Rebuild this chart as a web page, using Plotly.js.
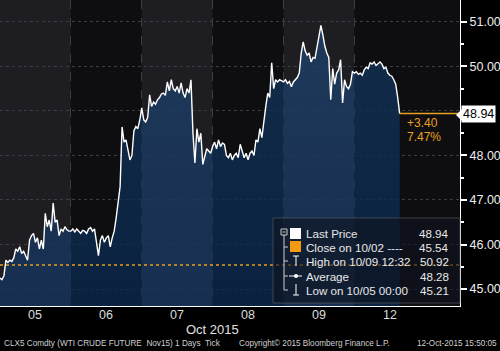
<!DOCTYPE html>
<html><head><meta charset="utf-8">
<script src="https://cdn.plot.ly/plotly-3.0.1.min.js"></script>
<style>html,body{margin:0;padding:0;background:#000;}#c{width:500px;height:351px;}</style>
</head><body><div id="c"></div>
<script>
// Day labels (calendar days; weekend skipped)
const dayLabels = ['05','06','07','08','09','12'];
// Prices sampled every 40 minutes of each calendar day (36 per day)
const p05 = [45.25,45.21,45.30,45.65,45.60,45.65,45.62,45.70,45.90,45.85,45.95,45.80,45.85,45.75,45.65,46.10,46.20,46.25,46.05,46.15,45.90,46.10,45.90,46.70,46.40,46.55,46.30,46.93,46.50,46.55,46.20,46.35,46.30,46.40,46.33,46.30];
const p06 = [46.30,46.35,46.28,46.35,46.30,46.25,46.32,46.30,46.25,46.35,46.38,46.30,46.35,46.05,45.75,46.10,46.20,46.05,46.15,46.20,45.95,46.15,46.30,46.60,46.95,47.30,48.64,48.30,48.35,48.10,47.90,48.00,48.55,48.65,48.60,48.80];
const p07 = [49.07,48.80,48.75,48.85,49.36,49.10,49.20,49.15,49.25,49.30,49.38,49.40,49.35,49.65,49.45,49.70,49.50,49.45,49.55,49.40,49.63,49.40,49.30,49.50,49.40,49.70,48.50,47.83,48.60,48.30,48.50,47.80,47.95,48.15,48.10,48.05];
const p08 = [48.20,48.30,48.15,48.35,48.20,48.28,48.25,48.00,47.95,48.05,47.90,48.00,48.05,47.95,48.25,48.10,47.95,48.05,47.90,48.05,48.10,48.00,48.35,48.30,48.60,48.40,48.80,49.10,49.40,49.30,50.08,49.50,49.70,49.65,49.70,49.68];
const p09 = [49.65,49.70,49.62,49.66,49.54,49.65,49.70,49.75,49.85,50.30,50.55,50.35,50.25,50.30,50.10,50.20,50.18,50.45,50.66,50.92,50.70,50.45,50.30,50.20,49.25,49.95,49.60,49.85,49.92,50.15,49.18,49.70,49.55,49.50,49.60,49.88];
const p12 = [49.85,49.88,49.82,49.85,49.80,49.92,49.98,49.95,50.08,50.05,50.10,50.02,50.06,50.10,50.05,49.95,49.98,49.85,49.80,49.78,49.70,49.60,49.30,48.94];
const samplesPerDay = 36;

// Legend / reference values
const legendLabels = ['Last Price','Close on 10/02 ----','High on 10/09 12:32','Average','Low on 10/05 00:00'];
const legendValues = ['48.94','45.54','50.92','48.28','45.21'];
const closePrev = 45.54;
const lastPrice = 48.94;
const changeText = ['+3.40','7.47%'];
const yTicks = [45,46,47,48,49,50,51];

const dayArrays = [p05,p06,p07,p08,p09,p12];
const xs = [], ys = [];
dayArrays.forEach((arr,d)=>arr.forEach((v,j)=>{xs.push(d + j/samplesPerDay); ys.push(v);}));
const lastX = xs[xs.length-1];

const XMAX = 6.49, YMIN = 44.62, YMAX = 51.49;
const W = 460, H = 306;
const px = x => x/W, py = y => (H - y)/H;
const ORANGE = '#e8a020';
const FONT = 'Liberation Sans, Arial, sans-serif';

// per-day area fills (alternating shading like the day bands)
const lightFill = [[0,'rgba(21,51,91,0.8)'],[1,'rgba(30,64,104,0.8)']];
const darkFill  = [[0,'rgba(9,39,75,0.8)'],[1,'rgba(18,51,88,0.8)']];
const traces = [];
dayArrays.forEach((arr,d)=>{
  const sx = arr.map((v,j)=>d + j/samplesPerDay), sy = arr.slice();
  if (d+1 < dayArrays.length) { sx.push(d+1); sy.push(dayArrays[d+1][0]); }
  traces.push({x:sx, y:sy, type:'scatter', mode:'lines', line:{width:0, color:'rgba(0,0,0,0)'},
    fill:'tozeroy', fillgradient:{type:'vertical', start:YMIN, stop:51.0, colorscale: d%2===0 ? lightFill : darkFill},
    hoverinfo:'skip'});
});
traces.push({x:xs, y:ys, type:'scatter', mode:'lines', line:{color:'#ffffff', width:1.4}, hoverinfo:'skip'});

const shapes = [];
dayLabels.forEach((d,i)=>{
  shapes.push({type:'rect', xref:'x', yref:'paper', x0:i, x1:(i===dayLabels.length-1?XMAX:i+1), y0:0, y1:1,
    fillcolor: i%2===0 ? '#1d1d22' : '#0e0e11', line:{width:0}, layer:'below'});
});
shapes.push({type:'line', xref:'paper', yref:'y', x0:0, x1:1, y0:closePrev, y1:closePrev,
  line:{color:ORANGE, width:1.5, dash:'dot'}, layer:'above'});
shapes.push({type:'line', xref:'x', yref:'y', x0:lastX, x1:XMAX, y0:lastPrice, y1:lastPrice,
  line:{color:ORANGE, width:1.5}, layer:'above'});
// legend box
shapes.push({type:'rect', xref:'paper', yref:'paper', x0:px(273), x1:px(460), y0:py(303), y1:py(218),
  fillcolor:'rgba(14,20,30,0.62)', line:{color:'rgba(90,95,105,0.6)', width:1}, layer:'above'});
// legend tree
shapes.push({type:'rect', xref:'paper', yref:'paper', x0:px(281), x1:px(287), y0:py(235), y1:py(229), line:{color:'#ccc',width:1}, fillcolor:'rgba(0,0,0,0)'});
shapes.push({type:'line', xref:'paper', yref:'paper', x0:px(282.5), x1:px(285.5), y0:py(232), y1:py(232), line:{color:'#ccc',width:1}});
shapes.push({type:'line', xref:'paper', yref:'paper', x0:px(284), x1:px(284), y0:py(235), y1:py(290), line:{color:'#ccc',width:1}});
[247,261,276,290].forEach(y=>shapes.push({type:'line', xref:'paper', yref:'paper', x0:px(284), x1:px(288), y0:py(y), y1:py(y), line:{color:'#ccc',width:1}}));
// legend icons
shapes.push({type:'rect', xref:'paper', yref:'paper', x0:px(290), x1:px(301), y0:py(239), y1:py(228), fillcolor:'#ffffff', line:{width:0}});
shapes.push({type:'rect', xref:'paper', yref:'paper', x0:px(290), x1:px(301), y0:py(252), y1:py(241), fillcolor:'#f39a12', line:{width:0}});
shapes.push({type:'line', xref:'paper', yref:'paper', x0:px(296), x1:px(296), y0:py(256), y1:py(266), line:{color:'#fff',width:1}});
shapes.push({type:'line', xref:'paper', yref:'paper', x0:px(293), x1:px(299), y0:py(256), y1:py(256), line:{color:'#fff',width:1}});
shapes.push({type:'line', xref:'paper', yref:'paper', x0:px(289), x1:px(302), y0:py(276), y1:py(276), line:{color:'#fff',width:1}});
shapes.push({type:'circle', xref:'paper', yref:'paper', x0:px(294), x1:px(298), y0:py(278), y1:py(274), fillcolor:'#fff', line:{width:0}});
shapes.push({type:'line', xref:'paper', yref:'paper', x0:px(296), x1:px(296), y0:py(284), y1:py(295), line:{color:'#fff',width:1}});
shapes.push({type:'line', xref:'paper', yref:'paper', x0:px(293), x1:px(299), y0:py(295), y1:py(295), line:{color:'#fff',width:1}});
// price tag notch
shapes.push({type:'path', xref:'paper', yref:'paper', path:`M ${px(456)} ${py(115)} L ${px(462)} ${py(109)} L ${px(462)} ${py(121)} Z`, fillcolor:'#ffffff', line:{width:0}, layer:'above'});

const annotations = [];
const rowsY = [233,247,261,276,290];
legendLabels.forEach((t,i)=>{
  annotations.push({xref:'paper', yref:'paper', x:px(304), y:py(rowsY[i]), xanchor:'left', yanchor:'middle', showarrow:false,
    text:t, font:{family:FONT, size:11.6, color:'#e8e8e8'}});
  annotations.push({xref:'paper', yref:'paper', x:px(451), y:py(rowsY[i]), xanchor:'right', yanchor:'middle', showarrow:false,
    text:legendValues[i], font:{family:FONT, size:11.6, color:'#e8e8e8'}});
});
annotations.push({xref:'paper', yref:'paper', x:px(405), y:py(123), xanchor:'left', yanchor:'middle', showarrow:false, text:changeText[0], font:{family:FONT,size:12,color:ORANGE}});
annotations.push({xref:'paper', yref:'paper', x:px(405), y:py(137), xanchor:'left', yanchor:'middle', showarrow:false, text:changeText[1], font:{family:FONT,size:12,color:ORANGE}});
annotations.push({xref:'paper', yref:'y', x:px(461), y:lastPrice, xanchor:'left', yanchor:'middle', showarrow:false, text:lastPrice.toFixed(2),
  bgcolor:'#ffffff', borderpad:1, font:{family:FONT,size:12.5,color:'#000'}});
// x day labels
dayLabels.forEach((d,i)=>annotations.push({xref:'x', yref:'paper', x:i+0.5, y:py(315), xanchor:'center', yanchor:'middle', showarrow:false,
  text:d, font:{family:FONT,size:12.5,color:'#dcdcdc'}}));
annotations.push({xref:'x', yref:'paper', x:3, y:py(329), xanchor:'center', yanchor:'middle', showarrow:false, text:'Oct 2015', font:{family:FONT,size:13,color:'#e0e0e0'}});
annotations.push({xref:'paper', yref:'paper', x:px(2), y:py(343), xanchor:'left', yanchor:'middle', showarrow:false, text:'CLX5 Comdty (WTI CRUDE FUTURE&nbsp;&nbsp;Nov15) 1 Days&nbsp;&nbsp;Tick', font:{family:FONT,size:8.2,color:'#cfcfcf'}});
annotations.push({xref:'paper', yref:'paper', x:px(237), y:py(343), xanchor:'left', yanchor:'middle', showarrow:false, text:'Copyright© 2015 Bloomberg Finance L.P.', font:{family:FONT,size:8.2,color:'#cfcfcf'}});
annotations.push({xref:'paper', yref:'paper', x:px(499), y:py(343), xanchor:'right', yanchor:'middle', showarrow:false, text:'12-Oct-2015 15:50:05', font:{family:FONT,size:8.2,color:'#cfcfcf'}});

const layout = {
  width:500, height:351, margin:{l:0,r:40,t:0,b:45},
  paper_bgcolor:'#000', plot_bgcolor:'#0e0e11', showlegend:false,
  xaxis:{range:[0,XMAX], tickmode:'array', tickvals:[], showticklabels:false,
    ticks:'', showgrid:false, zeroline:false, showline:true, linecolor:'#ffffff', linewidth:1,
    minor:{tickmode:'array', tickvals:dayLabels.slice(1).map((d,i)=>i+1), showgrid:true, gridcolor:'#3c3c42', griddash:'dash', gridwidth:1, ticks:''}},
  yaxis:{side:'right', range:[YMIN,YMAX], tickmode:'array', tickvals:yTicks,
    ticktext:yTicks.map(v=>Math.abs(v-lastPrice)<0.3 ? '' : v.toFixed(2)),
    ticks:'outside', ticklen:6, tickwidth:2, tickcolor:'#fff', showline:true, linecolor:'#ffffff', linewidth:1,
    showgrid:true, gridcolor:'#3c3c42', griddash:'dot', zeroline:false,
    tickfont:{family:FONT,size:12.5,color:'#eeeeee'},
    minor:{dtick:0.5, tick0:0, ticks:'outside', ticklen:3, tickcolor:'#fff', showgrid:false}},
  shapes:shapes, annotations:annotations
};
Plotly.newPlot('c',traces,layout,{displayModeBar:false, staticPlot:true});
</script></body></html>
